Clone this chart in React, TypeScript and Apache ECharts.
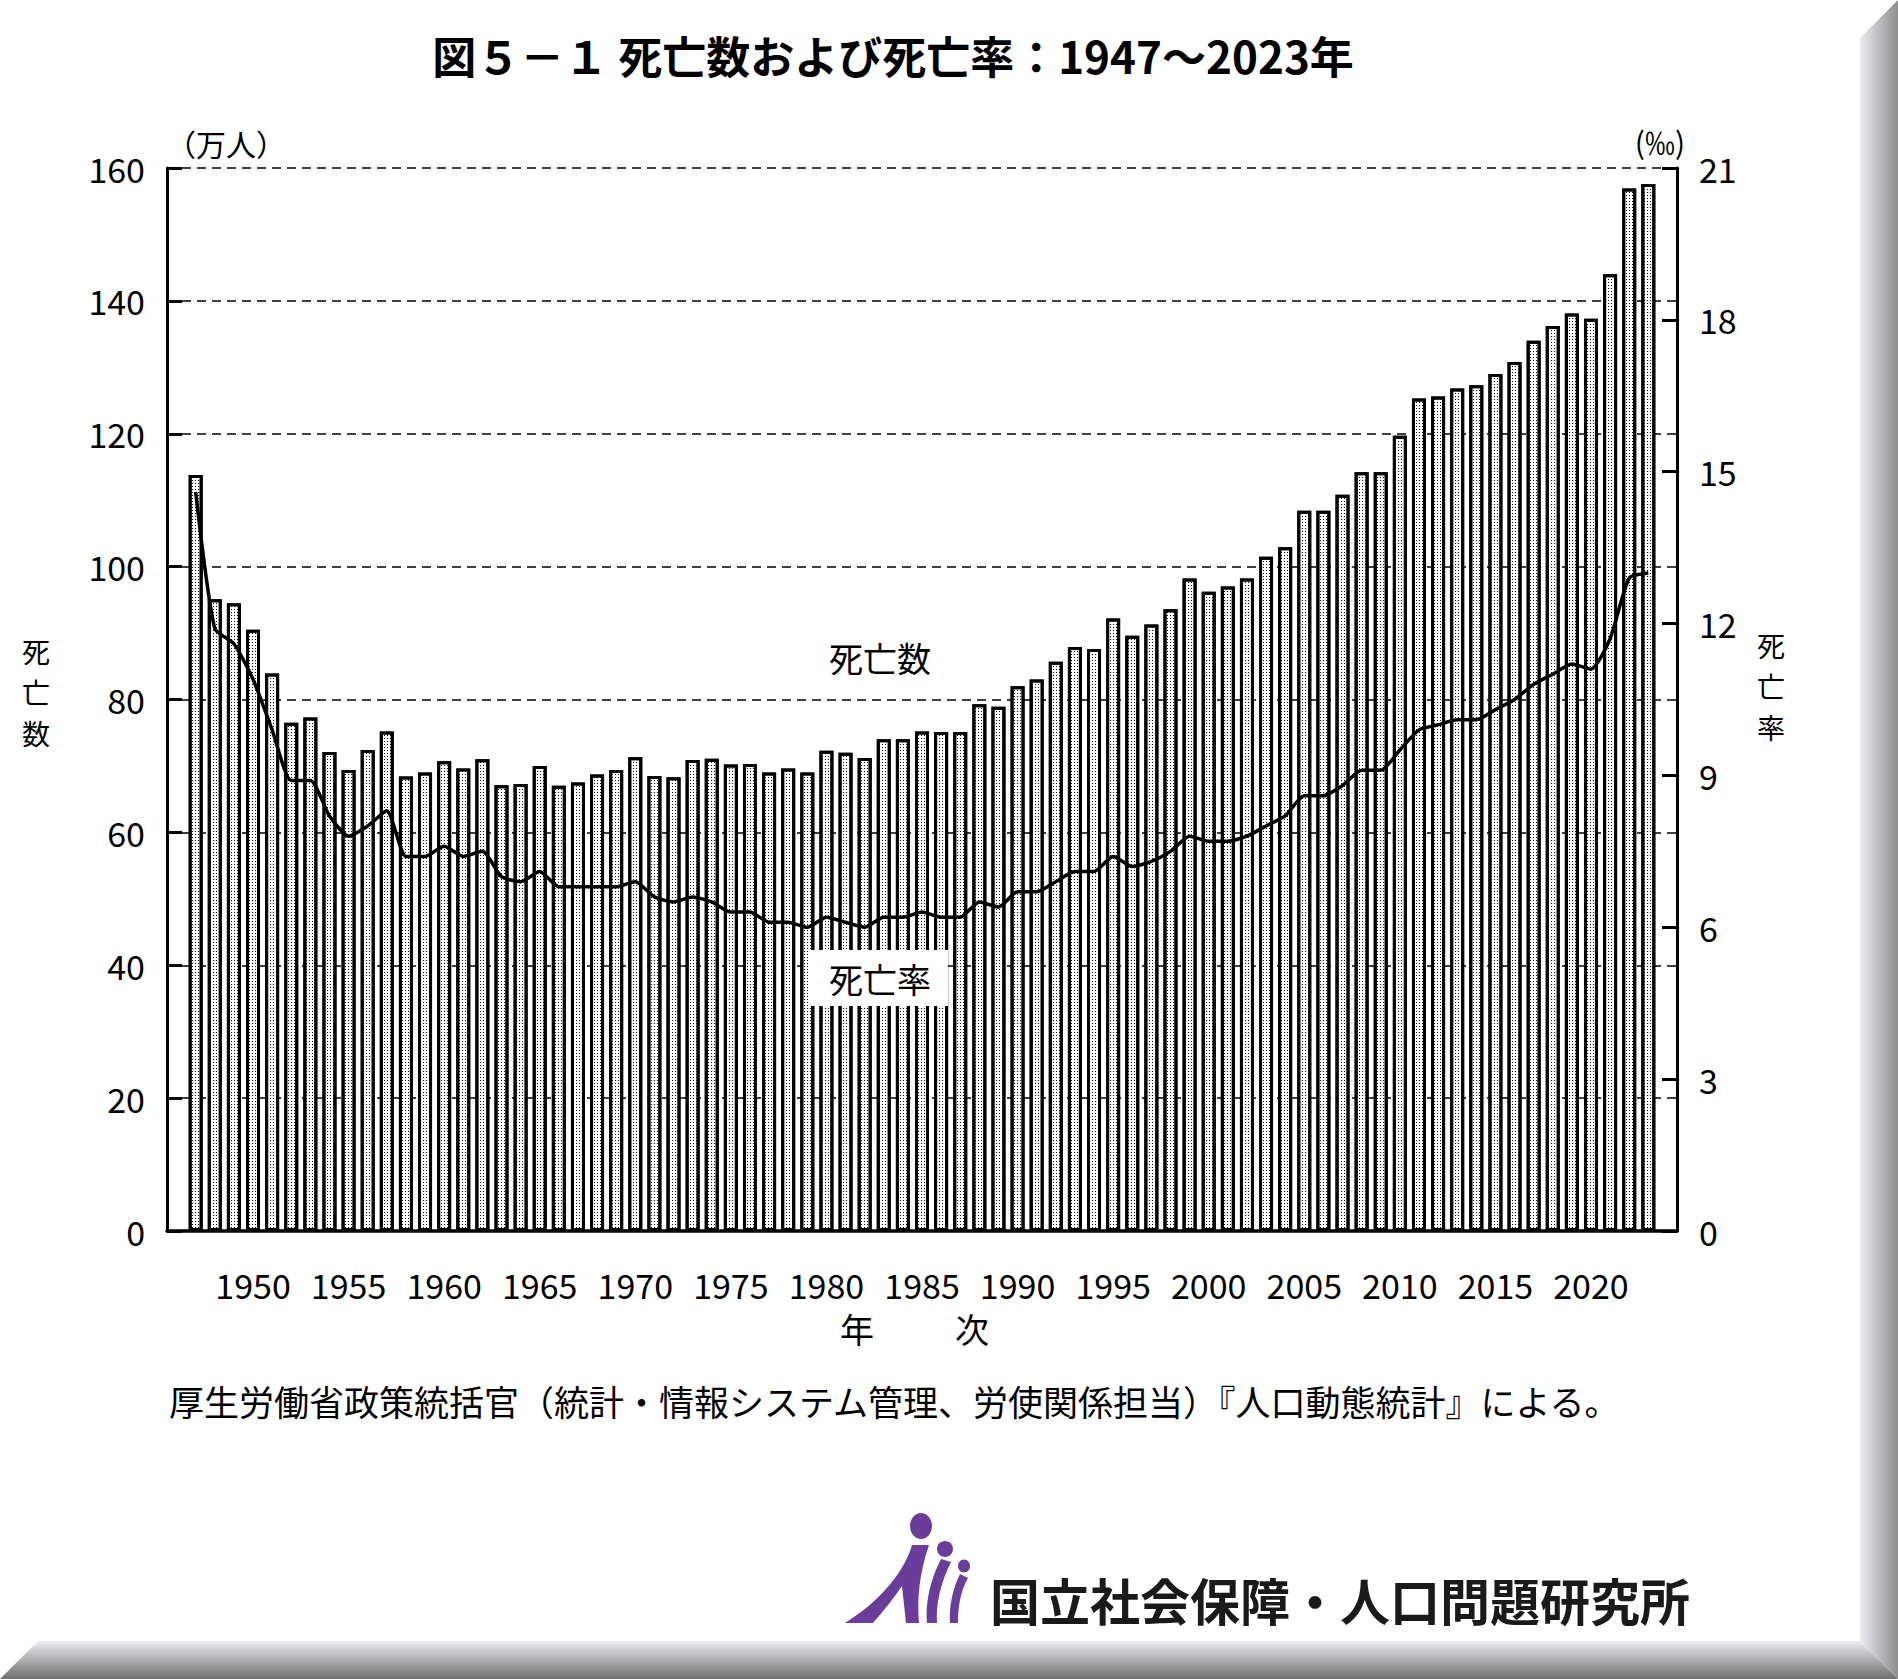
import { useEffect, useRef } from 'react'
import * as echarts from 'echarts'

const FONT = '"Noto Sans CJK JP", "Noto Sans", sans-serif'

// 1946 and 2024 are empty padding categories at both ends of the axis
const years: string[] = []
for (let y = 1946; y <= 2024; y++) years.push(String(y))

// 死亡数 (万人), 1947-2023
const deaths = [
  113.8, 95.1, 94.5, 90.5, 83.9, 76.5, 77.3, 72.1, 69.4, 72.4,
  75.2, 68.4, 69.0, 70.7, 69.6, 71.0, 67.1, 67.3, 70.0, 67.0,
  67.5, 68.7, 69.4, 71.3, 68.5, 68.3, 70.9, 71.1, 70.2, 70.3,
  69.0, 69.6, 69.0, 72.3, 72.0, 71.2, 74.0, 74.0, 75.2, 75.1,
  75.1, 79.3, 78.9, 82.0, 83.0, 85.7, 87.9, 87.6, 92.2, 89.6,
  91.3, 93.6, 98.2, 96.2, 97.0, 98.2, 101.5, 102.9, 108.4, 108.4,
  110.8, 114.2, 114.2, 119.7, 125.3, 125.6, 126.8, 127.3, 129.0, 130.8,
  134.0, 136.2, 138.1, 137.3, 144.0, 156.9, 157.6,
]

// 死亡率 (‰), 1947-2023
const rates = [
  14.6, 11.9, 11.6, 10.9, 9.9, 8.9, 8.9, 8.2, 7.8, 8.0,
  8.3, 7.4, 7.4, 7.6, 7.4, 7.5, 7.0, 6.9, 7.1, 6.8,
  6.8, 6.8, 6.8, 6.9, 6.6, 6.5, 6.6, 6.5, 6.3, 6.3,
  6.1, 6.1, 6.0, 6.2, 6.1, 6.0, 6.2, 6.2, 6.3, 6.2,
  6.2, 6.5, 6.4, 6.7, 6.7, 6.9, 7.1, 7.1, 7.4, 7.2,
  7.3, 7.5, 7.8, 7.7, 7.7, 7.8, 8.0, 8.2, 8.6, 8.6,
  8.8, 9.1, 9.1, 9.5, 9.9, 10.0, 10.1, 10.1, 10.3, 10.5,
  10.8, 11.0, 11.2, 11.1, 11.7, 12.9, 13.0,
]

const TITLE = '図５－１ 死亡数および死亡率：1947～2023年'
const SOURCE = '厚生労働省政策統括官（統計・情報システム管理、労使関係担当）『人口動態統計』による。'
const ORG = '国立社会保障・人口問題研究所'
const LEFT_NAME = ['死', '亡', '数']
const RIGHT_NAME = ['死', '亡', '率']

// logo figure strokes
echarts.graphic.registerShape('logoBody', echarts.graphic.extendPath(
  'M912 1545 C905 1570 882 1600 845 1623 L873 1623 C884 1610 894 1598 902 1586 L906 1623 L919 1623 C917 1600 919 1574 929 1545 Z', {}))
echarts.graphic.registerShape('logoArc1', echarts.graphic.extendPath(
  'M941 1559 C930 1580 925 1604 927 1623 L937 1623 C936 1604 940 1584 951 1562 Z', {}))
echarts.graphic.registerShape('logoArc2', echarts.graphic.extendPath(
  'M960 1574 C952 1590 949 1608 950 1623 L958 1623 C958 1608 960 1592 968 1578 Z', {}))

const showYear = (_i: number, v: string) => {
  const y = +v
  return y >= 1950 && y <= 2020 && y % 5 === 0
}

const txt = (x: number, y: number, text: string, size: number, extra: any = {}) => ({
  type: 'text', x, y, z: extra.z ?? 10,
  style: { text, font: `${extra.bold ? 'bold ' : ''}${size}px ${FONT}`, fill: extra.fill ?? '#000', textAlign: extra.align ?? 'center', textVerticalAlign: 'middle' },
})

export default function App() {
  const ref = useRef<HTMLDivElement>(null)

  useEffect(() => {
    if (!ref.current) return
    const chart = echarts.init(ref.current, undefined, { renderer: 'svg' })
    const barData = [null, ...deaths, null]
    const lineData = [null, ...rates, null]
    const purple = '#6a3d9a'

    chart.setOption({
      animation: false,
      backgroundColor: '#fff',
      textStyle: { fontFamily: FONT },
      grid: { left: 167, right: 221, top: 168, bottom: 448 },
      xAxis: {
        type: 'category',
        data: years,
        z: 5,
        axisLine: { lineStyle: { color: '#000', width: 3.5 } },
        axisTick: { inside: true, length: 16, alignWithLabel: true, interval: showYear, lineStyle: { color: '#000', width: 3 } },
        axisLabel: { interval: showYear, margin: 36, fontSize: 34, color: '#000', fontFamily: FONT },
        splitLine: { show: false },
      },
      yAxis: [
        {
          type: 'value', min: 0, max: 160, interval: 20,
          axisLine: { show: true, lineStyle: { color: '#000', width: 3 } },
          axisTick: { show: true, inside: true, length: 15, lineStyle: { color: '#000', width: 3 } },
          axisLabel: { margin: 22, fontSize: 34, color: '#000', fontFamily: FONT },
          splitLine: { show: true, lineStyle: { color: '#000', width: 1.5, type: [9, 6] } },
        },
        {
          type: 'value', min: 0, max: 21, interval: 3, position: 'right',
          axisLine: { show: true, lineStyle: { color: '#000', width: 3 } },
          axisTick: { show: true, inside: true, length: 15, lineStyle: { color: '#000', width: 3 } },
          axisLabel: { margin: 22, fontSize: 34, color: '#000', fontFamily: FONT },
          splitLine: { show: false },
        },
      ],
      series: [
        {
          type: 'bar', name: '死亡数', data: barData, barWidth: 14, z: 2,
          itemStyle: {
            color: '#fff', borderColor: '#000', borderWidth: 3,
            decal: { symbol: 'rect', symbolSize: 1, dashArrayX: [1, 2], dashArrayY: [1, 2], color: '#000', rotation: 0 },
          },
        },
        {
          type: 'line', name: '死亡率', data: lineData, yAxisIndex: 1, symbol: 'none', smooth: 0.2, z: 3,
          lineStyle: { color: '#000', width: 3.5 },
        },
      ],
      graphic: [
        txt(893, 55, TITLE, 44, { bold: true }),
        txt(226, 143, '（万人）', 30),
        txt(1660, 141, '(‰)', 30),
        ...LEFT_NAME.map((c, i) => txt(36, 651 + i * 41, c, 28)),
        ...RIGHT_NAME.map((c, i) => txt(1771, 645 + i * 41, c, 28)),
        txt(880, 657, '死亡数', 34, { z: 20 }),
        { type: 'rect', z: 19, shape: { x: 810, y: 950, width: 138, height: 56 }, style: { fill: '#fff' } },
        txt(880, 978, '死亡率', 34, { z: 20 }),
        txt(857, 1328, '年', 34),
        txt(972, 1328, '次', 34),
        txt(169, 1400, SOURCE, 35, { align: 'left' }),
        // logo
        { type: 'ellipse', shape: { cx: 921, cy: 1526, rx: 11, ry: 13 }, style: { fill: purple } },
        { type: 'ellipse', shape: { cx: 945, cy: 1549, rx: 8, ry: 8 }, style: { fill: purple } },
        { type: 'ellipse', shape: { cx: 964, cy: 1566, rx: 6, ry: 6.5 }, style: { fill: purple } },
        { type: 'logoBody', x: 0, y: 0, style: { fill: purple } },
        { type: 'logoArc1', x: 0, y: 0, style: { fill: purple } },
        { type: 'logoArc2', x: 0, y: 0, style: { fill: purple } },
        txt(990, 1599, ORG, 50, { bold: true, fill: '#1a1a1a', align: 'left' }),
        // bevelled frame
        {
          type: 'polygon', z: 30, shape: { points: [[1860, 38], [1898, 0], [1898, 1679], [1860, 1641]] },
          style: { fill: new echarts.graphic.LinearGradient(0, 0, 1, 0, [{ offset: 0, color: '#ececf2' }, { offset: 1, color: '#8e8e8e' }]) },
        },
        {
          type: 'polygon', z: 31, shape: { points: [[38, 1641], [1860, 1641], [1898, 1679], [0, 1679]] },
          style: { fill: new echarts.graphic.LinearGradient(0, 0, 0, 1, [{ offset: 0, color: '#ececf2' }, { offset: 1, color: '#6e6e6e' }]) },
        },
      ],
    })
    return () => { chart.dispose() }
  }, [])

  return <div ref={ref} style={{ position: 'absolute', left: 0, top: 0, width: 1898, height: 1679 }} />
}
